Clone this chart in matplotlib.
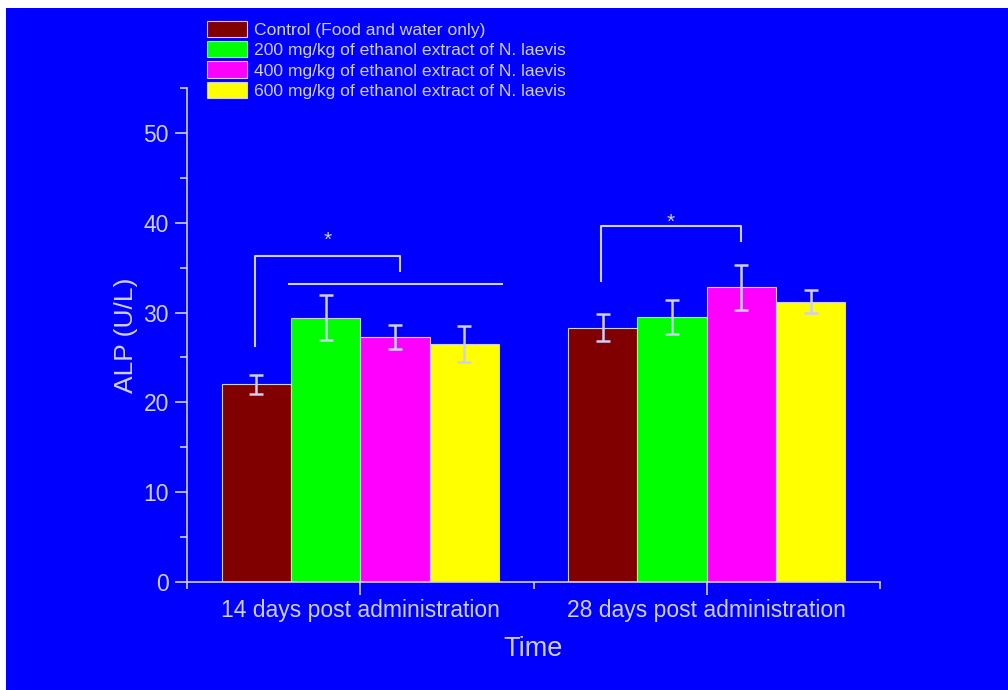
import matplotlib.pyplot as plt
import matplotlib.patches as mpatches
from matplotlib.ticker import MultipleLocator, FixedLocator
import numpy as np

plt.rcParams['font.family'] = ['Liberation Sans', 'DejaVu Sans']

groups = ['14 days post administration', '28 days post administration']
series = ['Control (Food and water only)',
          '200 mg/kg of ethanol extract of N. laevis',
          '400 mg/kg of ethanol extract of N. laevis',
          '600 mg/kg of ethanol extract of N. laevis']
colors = ['#800000', '#00ff00', '#ff00ff', '#ffff00']

control = [22.0, 28.3]
dose200 = [29.4, 29.5]
dose400 = [27.3, 32.8]
dose600 = [26.5, 31.2]

err_control = [1.1, 1.5]
err_200 = [2.5, 1.85]
err_400 = [1.35, 2.5]
err_600 = [2.05, 1.3]

# significance brackets (data coords)
bracket_x = [[-0.304, -0.304, 0.116, 0.116], [0.695, 0.695, 1.099, 1.099]]
bracket_y = [[26.3, 36.3, 36.3, 34.6], [33.55, 39.6, 39.6, 38.0]]
line2_x = [-0.206, 0.409]
line2_y = [33.2, 33.2]
star_x = [-0.093, 0.896]
star_y = [38.0, 40.1]

light = '#cfcff5'
blue = '#0000ff'

fig = plt.figure(figsize=(10.08, 6.9), dpi=100, facecolor='white')
fig.patches.append(mpatches.Rectangle((6 / 1008, 0), 1, 682 / 690,
                                      transform=fig.transFigure,
                                      facecolor=blue, edgecolor='none', zorder=-10))
ax = fig.add_axes([187 / 1008, 108 / 690, 693 / 1008, 494 / 690])
ax.set_facecolor(blue)

values = [control, dose200, dose400, dose600]
errors = [err_control, err_200, err_400, err_600]
x = np.arange(len(groups))
w = 0.2
for i, (vals, errs) in enumerate(zip(values, errors)):
    pos = x + (i - 1.5) * w
    ax.bar(pos, vals, w, color=colors[i], edgecolor=light, linewidth=0.8,
           label=series[i], zorder=2)
    ax.errorbar(pos, vals, yerr=errs, fmt='none', ecolor=light,
                elinewidth=1.8, capsize=5, capthick=1.8, zorder=3)

for bx, by in zip(bracket_x, bracket_y):
    ax.plot(bx, by, color=light, lw=1.5, zorder=4)
ax.plot(line2_x, line2_y, color=light, lw=1.5, zorder=4)
for sx, sy in zip(star_x, star_y):
    ax.text(sx, sy, '*', color=light, fontsize=15, ha='center', va='center')

ax.set_xlim(-0.5, 1.5)
ax.set_ylim(0, 55)
ax.set_xticks(x)
ax.set_xticklabels(groups)
ax.xaxis.set_minor_locator(FixedLocator([-0.5, 0.5, 1.5]))
ax.yaxis.set_major_locator(FixedLocator([0, 10, 20, 30, 40, 50]))
ax.yaxis.set_minor_locator(MultipleLocator(5))

for s in ['top', 'right']:
    ax.spines[s].set_visible(False)
for s in ['left', 'bottom']:
    ax.spines[s].set_color(light)
    ax.spines[s].set_linewidth(1.2)

ax.tick_params(axis='both', which='major', colors=light, labelsize=16.5,
               length=9, width=1.2, direction='out', labelcolor=light)
ax.tick_params(axis='both', which='minor', colors=light, length=5, width=1.2,
               direction='out')
ax.tick_params(axis='x', which='major', pad=3)
ax.tick_params(axis='y', which='major', pad=4)

ax.set_ylabel('ALP (U/L)', color=light, fontsize=19, labelpad=4)
ax.set_xlabel('Time', color=light, fontsize=19.5, labelpad=10)

leg = ax.legend(loc='upper left', bbox_to_anchor=(207 / 1008, 1 - 21 / 690),
                bbox_transform=fig.transFigure, frameon=False, fontsize=12.6,
                handlelength=2.3, handleheight=1.05, labelspacing=0.18,
                handletextpad=0.4, borderpad=0, borderaxespad=0)
for t in leg.get_texts():
    t.set_color(light)
for p in leg.get_patches():
    p.set_edgecolor(light)

fig.savefig('out.png', dpi=100, facecolor='white')
